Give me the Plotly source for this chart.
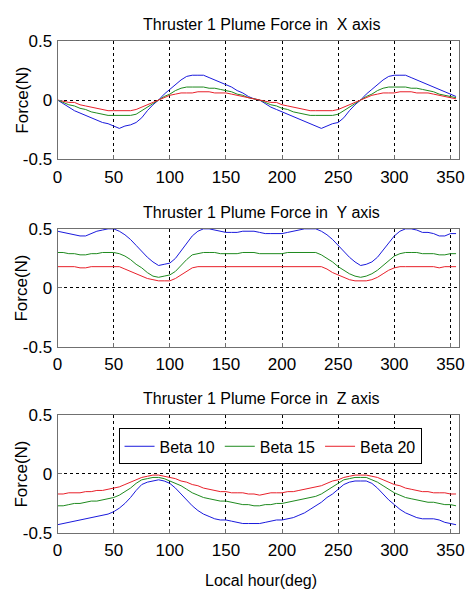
import plotly.graph_objects as go

# Local hour (deg), step 5
hours = list(range(0, 360, 5))

# ---- X axis force ----
x_beta10 = [0.0, -0.03, -0.06, -0.09, -0.11, -0.13, -0.15, -0.17, -0.19, -0.20, -0.22, -0.24,
            -0.22, -0.21, -0.19, -0.15, -0.09, -0.04, 0.0, 0.05, 0.09, 0.13, 0.17, 0.20,
            0.21, 0.21, 0.21, 0.19, 0.17, 0.15, 0.13, 0.11, 0.08, 0.06, 0.03, 0.01,
            0.0, -0.03, -0.06, -0.08, -0.10, -0.12, -0.14, -0.16, -0.18, -0.20, -0.22, -0.24,
            -0.22, -0.20, -0.19, -0.15, -0.09, -0.04, 0.0, 0.05, 0.09, 0.13, 0.17, 0.20,
            0.21, 0.21, 0.21, 0.19, 0.17, 0.15, 0.13, 0.11, 0.09, 0.07, 0.05, 0.03]
x_beta15 = [0.0, -0.02, -0.04, -0.05, -0.07, -0.08, -0.10, -0.11, -0.12, -0.13, -0.13, -0.13,
            -0.13, -0.13, -0.12, -0.09, -0.06, -0.03, 0.0, 0.03, 0.05, 0.08, 0.10, 0.11,
            0.11, 0.11, 0.11, 0.10, 0.10, 0.09, 0.08, 0.07, 0.05, 0.04, 0.02, 0.01,
            0.0, -0.02, -0.04, -0.05, -0.07, -0.08, -0.10, -0.11, -0.12, -0.13, -0.13, -0.13,
            -0.13, -0.13, -0.12, -0.09, -0.06, -0.03, 0.0, 0.03, 0.05, 0.08, 0.10, 0.11,
            0.11, 0.11, 0.11, 0.10, 0.10, 0.09, 0.08, 0.07, 0.05, 0.04, 0.03, 0.02]
x_beta20 = [0.0, -0.01, -0.02, -0.02, -0.04, -0.05, -0.06, -0.07, -0.08, -0.09, -0.09, -0.09,
            -0.09, -0.09, -0.08, -0.06, -0.04, -0.02, 0.0, 0.02, 0.04, 0.05, 0.06, 0.06,
            0.06, 0.07, 0.07, 0.07, 0.06, 0.06, 0.06, 0.05, 0.04, 0.03, 0.02, 0.01,
            0.0, -0.01, -0.02, -0.02, -0.04, -0.05, -0.06, -0.07, -0.08, -0.09, -0.09, -0.09,
            -0.09, -0.09, -0.08, -0.06, -0.04, -0.02, 0.0, 0.02, 0.04, 0.05, 0.06, 0.06,
            0.06, 0.07, 0.07, 0.07, 0.06, 0.06, 0.06, 0.05, 0.04, 0.03, 0.02, 0.01]

# ---- Y axis force ----
y_beta10 = [0.48, 0.47, 0.46, 0.45, 0.44, 0.44, 0.46, 0.48, 0.49, 0.50, 0.50, 0.48,
            0.45, 0.41, 0.36, 0.31, 0.26, 0.22, 0.19, 0.20, 0.21, 0.25, 0.31, 0.38,
            0.44, 0.48, 0.50, 0.50, 0.49, 0.48, 0.47, 0.47, 0.47, 0.48, 0.48, 0.48,
            0.47, 0.46, 0.46, 0.46, 0.46, 0.47, 0.48, 0.49, 0.50, 0.50, 0.50, 0.48,
            0.45, 0.41, 0.36, 0.31, 0.26, 0.22, 0.19, 0.20, 0.22, 0.26, 0.32, 0.39,
            0.44, 0.48, 0.50, 0.50, 0.49, 0.47, 0.47, 0.46, 0.44, 0.44, 0.46, 0.46]
y_beta15 = [0.30, 0.30, 0.29, 0.29, 0.28, 0.28, 0.29, 0.29, 0.30, 0.30, 0.30, 0.29,
            0.27, 0.24, 0.20, 0.17, 0.13, 0.10, 0.09, 0.10, 0.11, 0.14, 0.19, 0.24,
            0.28, 0.29, 0.30, 0.30, 0.30, 0.29, 0.29, 0.29, 0.29, 0.30, 0.30, 0.30,
            0.29, 0.29, 0.29, 0.29, 0.29, 0.30, 0.30, 0.30, 0.30, 0.30, 0.30, 0.28,
            0.25, 0.22, 0.18, 0.15, 0.12, 0.10, 0.09, 0.10, 0.12, 0.15, 0.19, 0.23,
            0.27, 0.29, 0.30, 0.30, 0.30, 0.29, 0.29, 0.29, 0.28, 0.28, 0.29, 0.29]
y_beta20 = [0.18, 0.18, 0.18, 0.18, 0.17, 0.17, 0.18, 0.18, 0.18, 0.18, 0.18, 0.18,
            0.16, 0.14, 0.12, 0.10, 0.08, 0.07, 0.06, 0.06, 0.06, 0.08, 0.11, 0.14,
            0.17, 0.18, 0.18, 0.18, 0.18, 0.18, 0.18, 0.18, 0.18, 0.18, 0.18, 0.18,
            0.18, 0.18, 0.18, 0.18, 0.18, 0.18, 0.18, 0.18, 0.18, 0.18, 0.18, 0.18,
            0.16, 0.13, 0.11, 0.09, 0.07, 0.06, 0.06, 0.06, 0.07, 0.09, 0.12, 0.15,
            0.17, 0.18, 0.18, 0.18, 0.18, 0.18, 0.18, 0.18, 0.17, 0.18, 0.18, 0.18]

# ---- Z axis force ----
z_beta10 = [-0.43, -0.42, -0.41, -0.40, -0.39, -0.38, -0.37, -0.36, -0.35, -0.34, -0.32, -0.29,
            -0.25, -0.20, -0.14, -0.09, -0.07, -0.06, -0.05, -0.06, -0.08, -0.12, -0.17, -0.22,
            -0.27, -0.31, -0.34, -0.36, -0.38, -0.39, -0.39, -0.40, -0.41, -0.42, -0.42, -0.42,
            -0.42, -0.41, -0.40, -0.39, -0.39, -0.38, -0.37, -0.35, -0.33, -0.30, -0.27, -0.24,
            -0.20, -0.17, -0.13, -0.09, -0.07, -0.06, -0.06, -0.06, -0.08, -0.12, -0.17, -0.22,
            -0.26, -0.30, -0.33, -0.35, -0.37, -0.38, -0.38, -0.38, -0.39, -0.41, -0.42, -0.43]
z_beta15 = [-0.27, -0.27, -0.26, -0.25, -0.25, -0.24, -0.23, -0.23, -0.22, -0.21, -0.20, -0.18,
            -0.15, -0.12, -0.08, -0.05, -0.04, -0.03, -0.03, -0.04, -0.06, -0.08, -0.10, -0.13,
            -0.16, -0.18, -0.20, -0.21, -0.22, -0.23, -0.23, -0.24, -0.25, -0.26, -0.26, -0.27,
            -0.27, -0.26, -0.26, -0.25, -0.25, -0.24, -0.23, -0.22, -0.21, -0.20, -0.19, -0.17,
            -0.14, -0.11, -0.08, -0.05, -0.04, -0.03, -0.03, -0.03, -0.05, -0.07, -0.10, -0.13,
            -0.16, -0.18, -0.20, -0.21, -0.22, -0.23, -0.24, -0.24, -0.25, -0.26, -0.26, -0.27]
z_beta20 = [-0.17, -0.17, -0.16, -0.16, -0.16, -0.15, -0.15, -0.14, -0.14, -0.13, -0.12, -0.11,
            -0.09, -0.07, -0.05, -0.03, -0.02, -0.01, -0.01, -0.02, -0.03, -0.04, -0.06, -0.07,
            -0.09, -0.10, -0.12, -0.13, -0.14, -0.15, -0.15, -0.16, -0.16, -0.16, -0.17, -0.17,
            -0.18, -0.17, -0.16, -0.16, -0.16, -0.15, -0.15, -0.14, -0.13, -0.12, -0.11, -0.10,
            -0.08, -0.06, -0.05, -0.03, -0.02, -0.01, -0.01, -0.01, -0.02, -0.03, -0.05, -0.07,
            -0.09, -0.10, -0.12, -0.13, -0.14, -0.15, -0.15, -0.16, -0.16, -0.16, -0.17, -0.17]

series_names = ["Beta 10", "Beta 15", "Beta 20"]
series_colors = ["#1a1adc", "#1f8a1f", "#e8202a"]
x_ticks = [0, 50, 100, 150, 200, 250, 300, 350]
y_ticks = [-0.5, 0, 0.5]
y_ticktext = ["-0.5", "0", "0.5"]
panel_titles = ["Thruster 1 Plume Force in  X axis",
                "Thruster 1 Plume Force in  Y axis",
                "Thruster 1 Plume Force in  Z axis"]
panels = [[x_beta10, x_beta15, x_beta20],
          [y_beta10, y_beta15, y_beta20],
          [z_beta10, z_beta15, z_beta20]]

W, H = 470, 604
FONT = "Liberation Sans, Arial, sans-serif"
x_dom = [53.7 / W, 464.3 / W]
panel_px = [(33, 155), (227, 349), (419, 541)]

fig = go.Figure()
layout = dict(
    width=W, height=H, margin=dict(l=0, r=0, t=0, b=0),
    paper_bgcolor="white", plot_bgcolor="white",
    font=dict(family=FONT, color="black"),
    showlegend=True,
)

annotations = []
for i, (vals, (top, bot)) in enumerate(zip(panels, panel_px)):
    n = "" if i == 0 else str(i + 1)
    xa, ya = "x" + n, "y" + n
    for name, col, v in zip(series_names, series_colors, vals):
        fig.add_trace(go.Scatter(
            x=hours, y=v, mode="lines", name=name,
            line=dict(color=col, width=1),
            xaxis=xa, yaxis=ya, showlegend=(i == 2),
        ))
    ax_common = dict(showline=True, mirror=True, linecolor="#707070", linewidth=1,
                     showgrid=True, gridcolor="black", gridwidth=1, griddash="3px,3px",
                     zeroline=False, ticks="inside", ticklen=4, tickcolor="#707070",
                     tickfont=dict(size=17, family=FONT))
    layout["xaxis" + n] = dict(ax_common, domain=x_dom, range=[0, 358],
                               tickvals=x_ticks, anchor=ya, ticklabelstandoff=2)
    layout["yaxis" + n] = dict(ax_common, domain=[1 - bot / H, 1 - top / H],
                               range=[-0.5, 0.5], tickvals=y_ticks, ticktext=y_ticktext,
                               anchor=xa, ticklabelstandoff=1)
    annotations.append(dict(text=panel_titles[i], x=262 / W, y=1 - (top - 17) / H,
                            xref="paper", yref="paper", showarrow=False,
                            xanchor="center", yanchor="middle",
                            font=dict(size=16, family=FONT)))
    annotations.append(dict(text="Force(N)", x=17 / W, y=1 - ((top + bot) / 2) / H,
                            xref="paper", yref="paper", showarrow=False, textangle=-90,
                            xanchor="center", yanchor="middle",
                            font=dict(size=17, family=FONT)))

annotations.append(dict(text="Local hour(deg)", x=262 / W, y=1 - 590 / H,
                        xref="paper", yref="paper", showarrow=False,
                        xanchor="center", yanchor="middle",
                        font=dict(size=16, family=FONT)))

layout["annotations"] = annotations
layout["legend"] = dict(orientation="h", x=116 / W, y=1 - 433 / H,
                        xanchor="left", yanchor="top",
                        bgcolor="white", bordercolor="black", borderwidth=1,
                        font=dict(size=16, family=FONT),
                        itemwidth=30, tracegroupgap=0)
fig.update_layout(**layout)
fig.write_html("out.html")
